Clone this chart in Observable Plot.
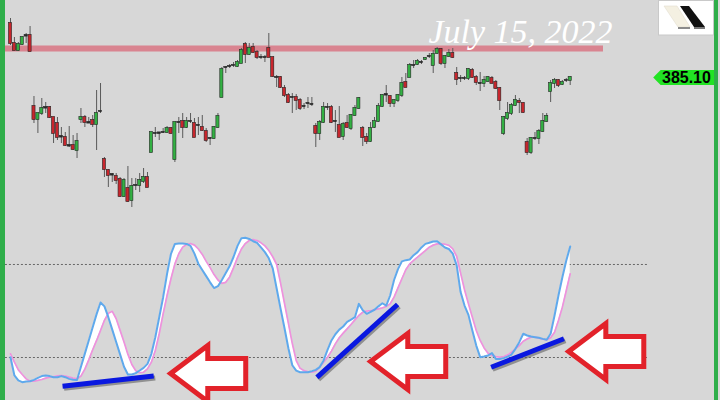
<!DOCTYPE html>
<html>
<head>
<meta charset="utf-8">
<script src="https://cdn.jsdelivr.net/npm/d3@7"></script>
<script src="https://cdn.jsdelivr.net/npm/@observablehq/plot@0.6"></script>
<style>
  html, body { margin: 0; padding: 0; background: #d7d7d7; }
  #wrap { position: relative; width: 720px; height: 400px; background: #d7d7d7; overflow: hidden; }
  #priceDiv { position: absolute; left: 0; top: 0; }
  #stochDiv { position: absolute; left: 0; top: 225px; }
  .bar { position: absolute; top: 0; height: 400px; background: #2fae4a; }
</style>
</head>
<body>
<div id="wrap">
  <div id="priceDiv"></div>
  <div id="stochDiv"></div>
  <div class="bar" style="left:0;width:5px"></div>
  <div class="bar" style="left:714px;width:4px"></div>
  <svg style="position:absolute;left:658px;top:0" width="56" height="36">
    <rect x="0.5" y="0.5" width="55" height="34.5" fill="#ffffff" stroke="#c9c9c9"/>
    <polygon points="6,6 19,6 32,27 20,27" fill="#f4f0e2" stroke="#e2ddd0" stroke-width="0.6"/>
    <polygon points="22,6 31,6 47,27 36,27" fill="#111111"/>
    <rect x="20" y="27" width="12" height="2" fill="#8a8a8a"/>
    <rect x="36" y="27" width="11" height="2" fill="#777777"/>
  </svg>
</div>
<script>
// ---- price candles (index 0..143) ----
const open = [
395.9,391.9,390.5,391.7,393.5,393.5,379.3,376.7,377.9,379.1,
379.1,377.1,375.9,373.3,373.1,371.5,371.5,370.5,376.7,377.1,
376.1,376.5,375.7,378.3,368.7,366.5,365.7,365.3,364.7,361.3,
362.9,360.5,363.5,363.5,364.3,365.1,370.1,373.9,373.9,374.1,
374.1,374.9,368.7,376.1,376.3,375.1,376.3,375.9,375.5,375.1,
374.3,372.9,372.9,375.1,381.1,387.1,387.3,387.5,387.3,387.9,
391.7,389.7,391.1,390.1,389.1,389.1,390.9,389.1,385.1,385.1,
382.9,381.5,381.1,381.1,380.5,379.3,379.9,379.7,375.3,373.9,
376.1,379.1,379.1,376.3,375.5,373.3,375.9,374.9,377.5,378.9,
374.9,373.1,372.3,375.1,376.3,379.3,381.7,381.3,379.9,380.5,
381.5,384.1,385.1,387.5,387.7,388.1,388.7,389.3,387.5,389.9,
390.7,387.9,389.3,389.9,385.9,384.9,384.9,384.9,386.5,385.1,
383.9,383.9,384.3,384.9,384.1,382.9,373.9,376.9,377.9,379.5,
380.3,379.9,372.1,370.1,372.9,372.9,374.3,376.3,382.3,383.9,
384.5,383.7,384.5,384.5];
const close = [
391.9,390.5,391.7,393.1,393.4,390.3,376.7,377.9,378.9,379.0,
377.1,373.9,373.1,373.2,371.5,371.4,370.7,372.3,377.1,376.1,
376.0,375.7,377.9,378.3,366.7,365.5,365.6,364.5,361.3,364.5,
360.3,363.3,363.5,364.5,365.1,363.1,374.1,373.9,374.0,374.1,
374.9,373.9,376.1,376.1,375.1,376.3,376.3,373.1,375.5,374.5,
372.5,372.9,375.1,377.3,386.7,387.1,387.3,387.5,388.1,390.5,
389.7,390.9,390.1,389.1,389.1,389.1,389.1,385.3,385.1,383.1,
381.5,380.1,381.1,380.5,378.9,379.3,379.9,379.7,373.9,376.1,
379.1,379.1,376.1,376.3,373.1,375.7,375.1,377.5,378.9,380.9,
373.1,372.3,374.9,376.3,379.3,381.5,381.6,379.9,380.5,381.5,
383.9,383.1,387.5,387.5,388.3,388.1,388.9,389.3,389.7,390.7,
387.9,389.3,389.9,389.1,384.7,384.9,384.9,386.7,385.1,384.1,
383.9,384.5,385.1,383.9,382.9,380.5,377.1,377.9,379.5,380.5,
380.1,378.1,370.1,372.9,372.9,374.3,376.3,377.3,383.9,384.5,
383.5,384.1,384.5,385.1];
const high = [
396.9,393.1,392.1,393.3,393.9,395.3,381.3,377.9,380.9,380.1,
379.3,377.1,377.1,375.1,374.1,375.3,373.5,373.9,378.9,377.5,
377.1,377.5,382.5,383.9,369.1,366.7,365.9,365.9,365.1,364.9,
367.3,364.9,364.9,365.9,366.9,366.1,374.1,375.1,374.1,374.9,
375.3,375.1,376.1,377.1,377.9,377.1,377.9,376.9,377.1,377.5,
374.9,373.1,375.3,377.9,387.1,387.3,387.7,388.1,388.5,390.9,
392.1,391.9,391.9,390.5,389.7,389.5,393.9,389.1,385.5,385.3,
383.5,381.9,381.9,381.7,380.9,379.9,381.1,381.1,375.9,376.5,
380.1,379.9,379.5,378.5,379.3,376.1,377.5,377.7,379.5,381.1,
375.3,373.9,376.1,377.1,379.9,381.7,383.5,381.5,380.7,381.7,
385.1,385.9,387.9,388.5,388.7,388.5,389.1,389.9,390.5,391.1,
390.9,389.5,390.7,390.9,387.1,385.5,385.3,386.9,386.9,385.5,
386.1,385.3,385.3,385.3,384.5,383.1,377.3,380.1,379.9,381.5,
380.9,380.1,372.9,373.1,374.1,374.7,377.9,377.9,384.5,384.9,
384.7,384.5,384.9,385.3];
const low = [
391.5,390.5,390.3,391.5,391.9,390.3,375.9,373.9,377.5,377.9,
376.9,371.9,372.5,371.9,371.3,371.1,370.5,368.9,375.9,375.1,
375.9,375.1,370.5,377.9,365.1,363.1,364.1,363.7,361.1,361.1,
360.1,359.1,362.5,362.1,363.9,363.1,370.1,373.1,372.5,373.9,
373.9,373.7,368.1,373.9,372.9,374.9,375.9,373.1,373.5,374.3,
372.1,371.5,372.7,374.9,381.1,385.9,386.9,387.1,387.1,387.9,
387.9,389.5,389.9,388.7,388.7,388.1,389.1,385.1,383.1,382.9,
381.1,379.9,377.9,378.5,378.5,378.7,378.9,379.3,371.1,372.5,
375.9,378.5,375.9,374.1,373.1,372.5,374.9,374.5,377.3,378.7,
371.3,371.7,372.1,374.9,376.1,379.1,380.1,379.1,379.1,380.1,
381.1,383.1,385.1,386.9,387.5,387.7,388.5,388.9,385.9,389.7,
387.5,386.9,389.1,388.9,383.5,384.1,384.5,384.5,384.9,383.5,
382.3,383.1,384.1,383.9,382.7,378.5,373.5,376.5,377.5,379.3,
377.9,377.9,369.5,369.7,372.5,371.7,374.1,376.1,380.1,382.9,
383.1,383.5,384.1,383.5];

// ---- stochastic %K (blue) and %D (pink), one value per candle ----
const stochK = [
20.2,8.4,5.2,4.1,4.5,4.7,5.6,6.9,8.0,8.4,
8.0,7.3,7.3,8.0,7.3,6.2,5.6,5.5,14,22.5,
31,39.5,48,55.5,53,46,38,30,22,14,
9.0,9.0,9.9,11.6,13.3,15.9,22.4,33.1,46.0,58.9,
74.0,86.9,93.3,93.5,93.5,93.3,92,87,80.5,76.5,
72.5,68.5,64.8,66,70,74.5,79,85,92,97,
97.2,96.5,95,94,91,88,84,77.5,64.5,51.5,
39,26,15,11.5,10.5,10.5,10.5,11.2,12.0,13.8,
18.1,24.9,31,35,38,40,43,44.5,46,54.6,
50.5,48.2,49.5,50.8,53,55,53.5,60,70,77,
82,82.8,83.2,86,88,91,93.3,94,94.8,95,
93,91,90,87,79.4,62.2,53.5,47.5,37.4,27.7,
20.2,20.6,21.3,22.8,19.1,19.1,19.6,20.6,21.9,25.6,
29.9,35.3,34.2,33.5,33.1,32.7,32.0,31.4,35.3,47.1,
60.0,71.8,82.6,91.6];
const stochD = [
22.4,17.0,12.0,9.0,6.2,4.7,4.7,5.2,5.8,6.7,
7.3,7.7,8.2,8.4,8.0,7.3,6.7,6.2,8,12.5,
18.5,25,31,37.4,44,48.5,49.8,45,37.5,30,
22,15.5,11.5,10.2,10.5,12.7,17.0,24.5,35.3,48.2,
60.0,70.8,80.4,86.9,91.2,92.9,93.5,92.5,90,86.5,
82,78,73.5,70,67.8,68.5,72,78,84.5,90,
93.5,95.5,96,95.5,94,92,89,85,80,68,
55,42,29,18,13,11.5,10.8,10.5,11.2,13.8,
17.0,20.2,24.1,28.8,32.7,35.7,38.5,41.3,44.3,47.1,
49.2,49.9,50.3,50.8,51.4,52.0,52.9,54.6,59,64.9,
70.8,76.6,80.4,82.6,84.7,86.9,89.0,91.2,92.5,93.3,
93.3,93.1,92.3,90.1,85.2,74.4,63.7,54.6,46.0,37.4,
31.0,26.2,22.8,21.3,20.6,20.2,20.6,21.7,23.4,25.6,
27.7,30.5,32.0,33.1,33.1,32.5,31.8,31.4,32.7,36.3,
43.9,52.5,63.2,74.0];

// ---- reference levels / annotations ----
const stochLevels = [80, 20];
const resistance = {x1: -1.3, x2: 151.5, y1: 390.2, y2: 391.4};
const titleText = "July 15, 2022";
const lastPrice = 385.10;
const trendLines = [
  {id: 1, pts: [[13.3, 1.4], [36.6, 8.0]]},
  {id: 2, pts: [[78.3, 7.2], [98.9, 54.2]]},
  {id: 3, pts: [[122.8, 13.7], [141.4, 32.1]]}
];
const arrowTips = [[40.9, 9.7], [92.0, 17.4], [142.6, 23.9]];
const arrowShape = [[0,0],[9.5,18.1],[9.5,9.7],[19.2,9.7],[19.2,-9.7],[9.5,-9.7],[9.5,-18.1]];

// ---- tables ----
const candles = open.map((o, i) => ({i, o, c: close[i], h: high[i], l: low[i]}));
const stoch = stochK.map((k, i) => ({i, k, d: stochD[i]}));
const trendPts = trendLines.flatMap(t => t.pts.map(([x, y]) => ({id: t.id, x, y})));
const arrowPts = arrowTips.flatMap(([tx, ty], id) => arrowShape.map(([dx, dy]) => ({id, x: tx + dx, y: ty + dy})));
const tagPts = [[164.2, 0], [166.1, 1.5], [179.9, 1.5], [179.9, -1.5], [166.1, -1.5]].map(([x, dy]) => ({x, y: lastPrice + dy}));

const candleColor = d => d.c > d.o + 0.15 ? "#33b043" : d.c < d.o - 0.15 ? "#c8262d" : "#2b2b2b";
const xDomain = [-2.555, 181.4];

const pricePlot = Plot.plot({
  width: 720, height: 225, margin: 0,
  style: {background: "transparent"},
  x: {domain: xDomain, axis: null},
  y: {domain: [355.5, 400.5], axis: null},
  marks: [
    Plot.rect([resistance], {x1: "x1", x2: "x2", y1: "y1", y2: "y2", fill: "#d98490"}),
    Plot.ruleX(candles, {x: "i", y1: "l", y2: "h", stroke: "#5a5a5a", strokeWidth: 1}),
    Plot.rect(candles, {
      x1: d => d.i - 0.4, x2: d => d.i + 0.4,
      y1: d => Math.min(d.o, d.c), y2: d => Math.max(d.o, d.c),
      fill: candleColor, stroke: "#262626", strokeWidth: 0.6,
      insetTop: -0.6, insetBottom: -0.6
    }),
    Plot.text([titleText], {x: 130.3, y: 394.1, text: d => d, fill: "white",
      fontSize: 34, fontStyle: "italic", fontFamily: "Liberation Serif"}),
    Plot.line(tagPts, {x: "x", y: "y", curve: "linear-closed", fill: "#22e324", stroke: "none"}),
    Plot.text([lastPrice], {x: 172.7, y: lastPrice, text: d => d.toFixed(2), fill: "#000",
      fontSize: 16, fontWeight: "bold", fontFamily: "Liberation Sans"})
  ]
});
document.getElementById("priceDiv").appendChild(pricePlot);

const stochPlot = Plot.plot({
  width: 720, height: 175, margin: 0,
  style: {background: "transparent"},
  x: {domain: xDomain, axis: null},
  y: {domain: [-7.74, 105.16], axis: null},
  marks: [
    Plot.ruleY(stochLevels, {x1: -1.3, x2: 163, stroke: "#4a4a4a", strokeWidth: 0.8, strokeDasharray: "2,2"}),
    Plot.areaY(stoch, {x: "i", y1: "k", y2: "d", fill: "#ffffff"}),
    Plot.lineY(stoch, {x: "i", y: "d", stroke: "#ee92dd", strokeWidth: 1.7}),
    Plot.lineY(stoch, {x: "i", y: "k", stroke: "#5fa9ec", strokeWidth: 2}),
    Plot.line(trendPts, {x: "x", y: "y", z: "id", stroke: "#555", strokeOpacity: 0.55, strokeWidth: 5, strokeLinecap: "butt", dx: 1.5, dy: 2}),
    Plot.line(trendPts, {x: "x", y: "y", z: "id", stroke: "#0a18e0", strokeWidth: 5, strokeLinecap: "butt"}),
    Plot.line(arrowPts, {x: "x", y: "y", z: "id", curve: "linear-closed", fill: "#ffffff",
      stroke: "#e2222a", strokeWidth: 5, strokeLinejoin: "miter", strokeMiterlimit: 10})
  ]
});
document.getElementById("stochDiv").appendChild(stochPlot);
</script>
</body>
</html>
